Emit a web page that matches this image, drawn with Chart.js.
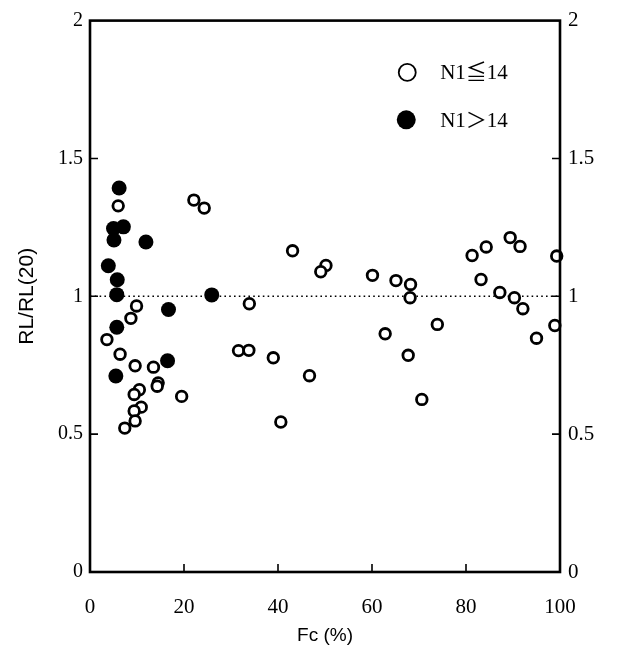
<!DOCTYPE html>
<html><head><meta charset="utf-8">
<script src="https://cdn.jsdelivr.net/npm/chart.js@4.4.1/dist/chart.umd.min.js"></script>
<style>html,body{margin:0;padding:0;background:#fff;} #wrap{width:622px;height:661px;position:relative;}</style>
</head><body><div id="wrap"><canvas id="c" width="622" height="661"></canvas></div>
<script>
// N1 <= 14 (open circles)
const fcOpen = [6.0, 22.1, 24.3, 9.9, 8.7, 3.6, 6.4, 9.6, 13.5, 14.5, 14.3, 19.5, 10.5, 9.4, 10.9, 9.4, 9.6, 7.4,
  33.9, 31.6, 33.8, 39.0, 40.6, 43.1, 50.2, 49.1, 46.7, 60.1, 65.1, 68.2, 68.1, 62.8, 67.7, 73.9, 70.6,
  81.3, 84.3, 89.4, 91.5, 83.2, 87.2, 90.3, 92.1, 99.3, 98.9, 95.0];
const rlOpen = [1.328, 1.349, 1.320, 0.965, 0.920, 0.843, 0.790, 0.748, 0.743, 0.686, 0.674, 0.637, 0.661, 0.644, 0.598, 0.584, 0.548, 0.522,
  0.973, 0.803, 0.804, 0.777, 0.544, 1.165, 1.112, 1.089, 0.712, 1.076, 1.057, 1.043, 0.995, 0.864, 0.786, 0.898, 0.626,
  1.148, 1.179, 1.213, 1.181, 1.061, 1.014, 0.995, 0.955, 1.146, 0.894, 0.848];
// N1 > 14 (filled circles)
const fcFilled = [6.2, 5.0, 7.1, 5.1, 11.9, 3.9, 5.8, 5.7, 25.9, 16.7, 5.7, 16.5, 5.5];
const rlFilled = [1.393, 1.246, 1.252, 1.204, 1.197, 1.111, 1.060, 1.006, 1.005, 0.952, 0.888, 0.766, 0.711];

const xTicks = [0, 20, 40, 60, 80, 100];
const yTicks = [0, 0.5, 1, 1.5, 2];
const refLevel = 1;
const legendLabels = ['N1\u226614', 'N1\uFF1E14'];
const xTitle = 'Fc (%)';
const yTitle = 'RL/RL(20)';

const toPts = (xs, ys) => xs.map((x, i) => ({x: x, y: ys[i]}));

const serif = "'Liberation Serif', 'Times New Roman', 'Noto Sans CJK JP', serif";
const sans = "'Liberation Sans', Arial, sans-serif";

const framePlugin = {
  id: 'frame',
  afterDatasetsDraw(chart) {
    const {ctx, chartArea: a, scales} = chart;
    ctx.save();
    ctx.strokeStyle = '#000';
    ctx.lineWidth = 1.6;
    const tl = 8;
    ctx.beginPath();
    scales.y.ticks.forEach(t => {
      if (t.value <= scales.y.min || t.value >= scales.y.max) return;
      const p = scales.y.getPixelForValue(t.value);
      ctx.moveTo(a.left, p); ctx.lineTo(a.left + tl, p);
      ctx.moveTo(a.right, p); ctx.lineTo(a.right - tl, p);
    });
    scales.x.ticks.forEach(t => {
      if (t.value <= scales.x.min || t.value >= scales.x.max) return;
      const p = scales.x.getPixelForValue(t.value);
      ctx.moveTo(p, a.bottom); ctx.lineTo(p, a.bottom - tl);
    });
    ctx.stroke();
    ctx.lineWidth = 2.6;
    ctx.strokeRect(a.left, a.top, a.right - a.left, a.bottom - a.top);
    // legend
    const xs = scales.x, ys = scales.y;
    const lx = xs.getPixelForValue(67.5);
    const tx = xs.getPixelForValue(74.5);
    const ly = [ys.getPixelForValue(1.812), ys.getPixelForValue(1.64)];
    ctx.lineWidth = 1.8;
    ctx.beginPath(); ctx.arc(lx, ly[0], 8.5, 0, Math.PI * 2); ctx.stroke();
    ctx.fillStyle = '#000';
    ctx.beginPath(); ctx.arc(lx - 1, ly[1], 9.5, 0, Math.PI * 2); ctx.fill();
    ctx.font = '21px ' + serif;
    ctx.textBaseline = 'middle';
    ctx.textAlign = 'left';
    ctx.fillText(legendLabels[0], tx, ly[0] + 1);
    ctx.fillText(legendLabels[1], tx, ly[1] + 2);
    ctx.restore();
  }
};

new Chart(document.getElementById('c'), {
  type: 'scatter',
  data: {
    datasets: [
      {
        label: legendLabels[0],
        data: toPts(fcOpen, rlOpen),
        pointStyle: 'circle',
        pointRadius: 5.3,
        pointBorderWidth: 2.8,
        pointBackgroundColor: '#fff',
        pointBorderColor: '#000',
        clip: false,
        order: 2
      },
      {
        label: legendLabels[1],
        data: toPts(fcFilled, rlFilled),
        pointStyle: 'circle',
        pointRadius: 7.5,
        pointBorderWidth: 0,
        pointBackgroundColor: '#000',
        pointBorderColor: '#000',
        clip: false,
        order: 1
      },
      {
        type: 'line',
        label: 'ref',
        data: [{x: xTicks[0], y: refLevel}, {x: xTicks[xTicks.length - 1], y: refLevel}],
        borderColor: '#000',
        borderWidth: 1.6,
        borderDash: [1.6, 3.2],
        pointRadius: 0,
        fill: false,
        order: 3
      }
    ]
  },
  options: {
    responsive: false,
    animation: false,
    devicePixelRatio: 1,
    layout: {padding: {top: 17, left: 0, right: 0, bottom: 0}},
    plugins: {legend: {display: false}, tooltip: {enabled: false}},
    scales: {
      x: {
        type: 'linear', position: 'bottom', min: 0, max: 100,
        afterBuildTicks: s => { s.ticks = xTicks.map(v => ({value: v})); },
        afterFit: s => { s.height = 89; },
        grid: {display: false, drawTicks: false},
        border: {display: false},
        ticks: {color: '#000', padding: 23, font: {family: serif, size: 21}, maxRotation: 0, callback: v => String(v)},
        title: {display: true, text: xTitle, color: '#000', font: {family: sans, size: 19}, padding: {top: 0, bottom: 14}}
      },
      y: {
        type: 'linear', position: 'left', min: 0, max: 2,
        afterBuildTicks: s => { s.ticks = yTicks.map(v => ({value: v})); },
        afterFit: s => { s.width = 90; },
        grid: {display: false, drawTicks: false},
        border: {display: false},
        ticks: {color: '#000', padding: 7, font: {family: serif, size: 20}, callback: v => String(v)},
        title: {display: true, text: yTitle, color: '#000', font: {family: sans, size: 21}, padding: {top: 15, bottom: 0}}
      },
      y2: {
        type: 'linear', position: 'right', min: 0, max: 2,
        afterBuildTicks: s => { s.ticks = yTicks.map(v => ({value: v})); },
        afterFit: s => { s.width = 62; },
        grid: {display: false, drawTicks: false},
        border: {display: false},
        ticks: {color: '#000', padding: 8, font: {family: serif, size: 21}, callback: v => String(v)}
      }
    }
  },
  plugins: [framePlugin]
});
</script></body></html>
